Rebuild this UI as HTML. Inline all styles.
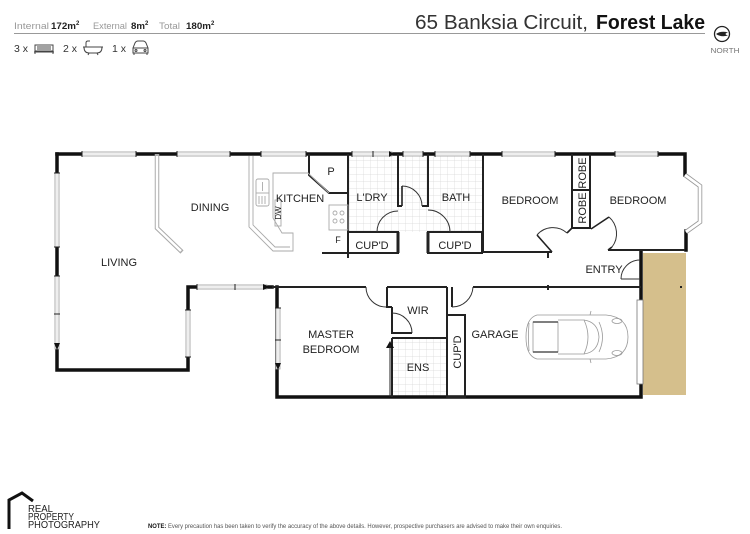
<!DOCTYPE html>
<html><head><meta charset="utf-8"><style>
html,body{margin:0;padding:0;background:#fff;}
svg{display:block;font-family:"Liberation Sans",sans-serif;}
</style></head><body>
<svg width="750" height="534" viewBox="0 0 750 534" xmlns="http://www.w3.org/2000/svg">
<defs>
<pattern id="tile" width="7" height="7" patternUnits="userSpaceOnUse"><path d="M7,0 V7 M0,7 H7" stroke="#d8d8d8" stroke-width="0.7" fill="none"/></pattern>
</defs>
<rect width="750" height="534" fill="#fff"/>

<!-- HEADER -->
<g font-size="9.5">
<text x="14" y="29" fill="#999" textLength="35" lengthAdjust="spacingAndGlyphs">Internal</text>
<text x="51" y="29" fill="#222" font-weight="bold" textLength="25" lengthAdjust="spacingAndGlyphs">172m</text><text x="76" y="25" fill="#222" font-size="6" font-weight="bold">2</text>
<text x="93" y="29" fill="#999" textLength="34" lengthAdjust="spacingAndGlyphs">External</text>
<text x="131" y="29" fill="#222" font-weight="bold" textLength="14" lengthAdjust="spacingAndGlyphs">8m</text><text x="145" y="25" fill="#222" font-size="6" font-weight="bold">2</text>
<text x="159" y="29" fill="#999" textLength="21" lengthAdjust="spacingAndGlyphs">Total</text>
<text x="186" y="29" fill="#222" font-weight="bold" textLength="25" lengthAdjust="spacingAndGlyphs">180m</text><text x="211" y="25" fill="#222" font-size="6" font-weight="bold">2</text>
</g>
<line x1="14" y1="33.5" x2="705" y2="33.5" stroke="#999" stroke-width="1"/>
<g font-size="10.5" fill="#333">
<text x="14" y="52">3 x</text>
<text x="63" y="52">2 x</text>
<text x="112" y="52">1 x</text>
</g>
<g fill="none" stroke="#444" stroke-width="1">
<rect x="35" y="45" width="18" height="6"/>
<line x1="37" y1="47" x2="51" y2="47"/><line x1="37" y1="49" x2="51" y2="49"/>
<line x1="34" y1="52" x2="54" y2="52"/>
<line x1="35" y1="52" x2="35" y2="54"/><line x1="53" y1="52" x2="53" y2="54"/>
<path d="M83,47 H103 M84,47 Q84,53 89,53 H97 Q102,53 102,47"/>
<path d="M86,47 V43 Q86,41 88,41 H90"/>
<line x1="89" y1="53" x2="88" y2="55"/><line x1="97" y1="53" x2="98" y2="55"/>
<path d="M133,48 L135,43 Q136,41 138,41 H143 Q145,41 146,43 L148,48 V53 H133 Z"/>
<line x1="133" y1="48" x2="148" y2="48"/>
<circle cx="136" cy="50.5" r="1"/><circle cx="145" cy="50.5" r="1"/>
<line x1="134" y1="53" x2="134" y2="55"/><line x1="147" y1="53" x2="147" y2="55"/>
</g>

<text x="415" y="29" font-size="20" fill="#333" textLength="173" lengthAdjust="spacingAndGlyphs">65 Banksia Circuit,</text>
<text x="596" y="29" font-size="20" fill="#111" font-weight="bold" textLength="109" lengthAdjust="spacingAndGlyphs">Forest Lake</text>

<circle cx="722" cy="34" r="7.5" fill="none" stroke="#222" stroke-width="1.3"/>
<path d="M716,34 Q721,30.5 728,32.5 Q723,34 728,35.5 Q721,37.5 716,34 Z" fill="#222"/>
<text x="725" y="53" font-size="7" fill="#777" text-anchor="middle" textLength="29" lengthAdjust="spacingAndGlyphs">NORTH</text>

<!-- TAN PORCH -->
<rect x="643" y="253" width="43" height="142" fill="#d5bf8c"/>
<rect x="680" y="286" width="2" height="2" fill="#222"/>

<!-- TILES -->
<rect x="348" y="154" width="50" height="78" fill="url(#tile)"/>
<rect x="398" y="154" width="30" height="78" fill="url(#tile)"/>
<rect x="428" y="154" width="54" height="78" fill="url(#tile)"/>
<rect x="392" y="338" width="55" height="59" fill="url(#tile)"/>

<!-- OUTER WALLS -->
<g fill="none" stroke="#111" stroke-width="3.5" stroke-linecap="square">
<path d="M57,154 H685 V175"/>
<path d="M686,231 V250"/>
<path d="M57,154 V370 H188 V287 H272"/>
<path d="M277,287 V397 H641 V384"/>
<path d="M641,300 V252"/>
</g>

<!-- INTERIOR WALLS -->
<g fill="none" stroke="#222" stroke-width="2">
<path d="M483,154 V252 H552"/>
<path d="M608,250 H685"/>
<path d="M428,154 V206 H422"/>
<path d="M398,154 V206 H402"/>
<path d="M348,154 V258"/>
<rect x="348" y="232" width="50" height="21"/>
<rect x="428" y="232" width="54" height="21"/>
<path d="M309,154 V175 L329,193 H348"/>
<path d="M322,253 H348"/>
<path d="M272,287 H366"/>
<path d="M387,287 H447"/>
<path d="M473,287 H641"/>
<path d="M392,307 V333 H412"/>
<path d="M392,338 V397"/>
<path d="M392,338 H447"/>
<path d="M447,287 V397"/>
<rect x="447" y="315" width="18" height="82"/>
<path d="M387,287 V307 H392"/>
<path d="M452,287 V307"/>
<path d="M548,285 V290"/>
<path d="M548,252 V258"/>
</g>
<g fill="none" stroke="#222" stroke-width="3">
<path d="M398,232 V253 M428,232 V253"/>
</g>
<!-- robe -->
<g fill="none" stroke="#222" stroke-width="2">
<path d="M572,154 V228 H590 V154"/>
<path d="M572,190 H590"/>
</g>

<!-- doors -->
<g fill="none" stroke="#333" stroke-width="1">
<path d="M366,287 A20,20 0 0 0 386,307"/>
<path d="M392,313 A20,20 0 0 1 412,333"/>
<path d="M452,307 A21,21 0 0 0 473,287"/>
<path d="M621,279 A19,19 0 0 1 640,260"/>
<path d="M621,279 H640"/>
<path d="M377,232 A21,21 0 0 1 398,211"/>
<path d="M428,210 A22,22 0 0 1 450,232"/>
<path d="M402,186 A20,20 0 0 1 422,206"/>
</g>
<g fill="none" stroke="#222" stroke-width="1.6">
<path d="M402,186 V206"/>
<path d="M552,252 L537,235"/>
<path d="M567,233 L572,228"/>
<path d="M591,229 L609,217"/>
<path d="M612,247 L608,250"/>
</g>
<g fill="none" stroke="#333" stroke-width="1">
<path d="M537,235 A21,21 0 0 1 567,233"/>
<path d="M609,217 A22,22 0 0 1 612,247"/>
</g>

<!-- WINDOWS -->
<g>
<g fill="#fff" stroke="#999" stroke-width="0.8">
<rect x="82" y="152" width="54" height="4"/>
<rect x="177" y="152" width="53" height="4"/>
<rect x="261" y="152" width="45" height="4"/>
<rect x="352" y="152" width="40" height="4"/>
<rect x="403" y="152" width="20" height="4"/>
<rect x="435" y="152" width="35" height="4"/>
<rect x="502" y="152" width="53" height="4"/>
<rect x="615" y="152" width="43" height="4"/>
<rect x="55" y="173" width="4" height="74"/>
<rect x="55" y="276" width="4" height="38"/>
<rect x="55" y="314" width="4" height="35"/>
<rect x="186" y="310" width="4" height="47"/>
<rect x="197" y="285" width="38" height="4"/>
<rect x="235" y="285" width="32" height="4"/>
<rect x="276" y="308" width="4" height="32"/>
<rect x="276" y="340" width="4" height="29"/>
<rect x="637" y="300" width="6" height="84" stroke="#777"/>
<path d="M685,175 L700,186 L700,222 L686,232" fill="none" stroke="#999" stroke-width="4.5"/>
<path d="M685,175 L700,186 L700,222 L686,232" fill="none" stroke="#fff" stroke-width="2.8"/>
</g>
<g stroke="#bbb" stroke-width="0.5">
<line x1="82" y1="154" x2="136" y2="154"/><line x1="177" y1="154" x2="230" y2="154"/>
<line x1="261" y1="154" x2="306" y2="154"/><line x1="352" y1="154" x2="390" y2="154"/>
<line x1="403" y1="154" x2="423" y2="154"/><line x1="435" y1="154" x2="470" y2="154"/>
<line x1="502" y1="154" x2="555" y2="154"/><line x1="615" y1="154" x2="658" y2="154"/>
<line x1="57" y1="173" x2="57" y2="247"/><line x1="57" y1="276" x2="57" y2="349"/>
<line x1="188" y1="310" x2="188" y2="357"/><line x1="197" y1="287" x2="267" y2="287"/>
<line x1="278" y1="308" x2="278" y2="369"/>
</g>
<g stroke="#222" stroke-width="1">
<line x1="82" y1="151" x2="82" y2="157"/><line x1="136" y1="151" x2="136" y2="157"/>
<line x1="177" y1="151" x2="177" y2="157"/><line x1="230" y1="151" x2="230" y2="157"/>
<line x1="261" y1="151" x2="261" y2="157"/><line x1="306" y1="151" x2="306" y2="157"/>
<line x1="352" y1="151" x2="352" y2="157"/><line x1="373" y1="151" x2="373" y2="157"/>
<line x1="403" y1="151" x2="403" y2="157"/><line x1="423" y1="151" x2="423" y2="157"/>
<line x1="435" y1="151" x2="435" y2="157"/><line x1="470" y1="151" x2="470" y2="157"/>
<line x1="502" y1="151" x2="502" y2="157"/><line x1="555" y1="151" x2="555" y2="157"/>
<line x1="615" y1="151" x2="615" y2="157"/><line x1="658" y1="151" x2="658" y2="157"/>
<line x1="54" y1="173" x2="60" y2="173"/><line x1="54" y1="247" x2="60" y2="247"/>
<line x1="54" y1="276" x2="60" y2="276"/><line x1="54" y1="314" x2="60" y2="314"/>
<line x1="185" y1="310" x2="191" y2="310"/><line x1="185" y1="357" x2="191" y2="357"/>
<line x1="197" y1="284" x2="197" y2="290"/><line x1="235" y1="284" x2="235" y2="290"/>
<line x1="275" y1="308" x2="281" y2="308"/><line x1="275" y1="340" x2="281" y2="340"/>
</g>
<g fill="#111">
<path d="M389,151 L394,154 L389,157 Z"/>
<path d="M54,343 L60,343 L57,350 Z"/>
<path d="M263,284 L270,287 L263,290 Z"/>
<path d="M275,363 L281,363 L278,370 Z"/>
<path d="M386,348 L390,341 L394,348 Z"/>
</g>
<line x1="390" y1="345" x2="390" y2="397" stroke="#222" stroke-width="1"/>
</g>

<!-- living/dining divider & kitchen bench -->
<g fill="none" stroke="#aaa" stroke-width="4.5">
<path d="M157,154 V228 L182,252"/>
</g>
<g fill="none" stroke="#fff" stroke-width="2.5">
<path d="M157,156 V228 L181,251"/>
</g>
<g fill="none" stroke="#aaa" stroke-width="0.9">
<path d="M249,156 V227 L273,251 H293 V233 H282 L273,218 V173 H308 L329,193"/>
<path d="M253,156 V225 L275,247 H290"/>
<rect x="256" y="179" width="13" height="27" rx="2"/>
<line x1="256" y1="193" x2="269" y2="193"/>
<line x1="262.5" y1="182" x2="262.5" y2="191"/>
<path d="M259,196 V204 M262,196 V204 M265,196 V204"/>
<rect x="275" y="200" width="6" height="26"/>
<rect x="329" y="205" width="19" height="25"/>
<circle cx="335" cy="213" r="2"/><circle cx="342" cy="213" r="2"/>
<circle cx="335" cy="221" r="2"/><circle cx="342" cy="221" r="2"/>
</g>

<!-- car -->
<g fill="none" stroke="#999" stroke-width="0.8">
<path d="M537,315 H606 Q628,317 628,337 Q628,357 606,359 H537 Q526,356 526,337 Q526,318 537,315 Z"/>
<path d="M533,322 H558 V352 H533 Z"/>
<path d="M533,322 H558 M533,352 H558" stroke="#555" stroke-width="1.5"/>
<path d="M558,320 H584 Q592,337 584,354 H558"/>
<path d="M584,320 Q598,322 599,337 Q598,352 584,354"/>
<path d="M599,322 Q606,337 599,352"/>
<ellipse cx="617" cy="321" rx="5" ry="2.5"/>
<ellipse cx="617" cy="353" rx="5" ry="2.5"/>
<path d="M590,315 L591,311 M590,359 L591,363"/>
<path d="M529,323 Q528,337 529,351"/>
</g>

<!-- ROOM LABELS -->
<g font-size="11" fill="#222" text-anchor="middle">
<text x="119" y="266">LIVING</text>
<text x="210" y="211">DINING</text>
<text x="300" y="202">KITCHEN</text>
<text x="331" y="175">P</text>
<text x="338" y="243" font-size="9">F</text>
<text x="372" y="201">L'DRY</text>
<text x="456" y="201">BATH</text>
<text x="372" y="249">CUP'D</text>
<text x="455" y="249">CUP'D</text>
<text x="530" y="204">BEDROOM</text>
<text x="638" y="204">BEDROOM</text>
<text x="604" y="273">ENTRY</text>
<text x="331" y="338">MASTER</text>
<text x="331" y="353">BEDROOM</text>
<text x="418" y="314">WIR</text>
<text x="495" y="338">GARAGE</text>
<text x="418" y="371">ENS</text>
<text transform="translate(586,173) rotate(-90)">ROBE</text>
<text transform="translate(586,208) rotate(-90)">ROBE</text>
<text transform="translate(461,352) rotate(-90)">CUP'D</text>
<text transform="translate(281,213) rotate(-90)" font-size="8">DW</text>
</g>

<!-- FOOTER -->
<path d="M9,529 V500 L22,493 L33,501" fill="none" stroke="#111" stroke-width="3"/>
<g font-size="10.5" fill="#222">
<text x="28" y="512" textLength="25" lengthAdjust="spacingAndGlyphs">REAL</text>
<text x="28" y="520" textLength="46" lengthAdjust="spacingAndGlyphs">PROPERTY</text>
<text x="28" y="528" textLength="72" lengthAdjust="spacingAndGlyphs">PHOTOGRAPHY</text>
</g>
<text x="148" y="528" font-size="6.5" fill="#555" textLength="414" lengthAdjust="spacingAndGlyphs"><tspan font-weight="bold" fill="#111">NOTE:</tspan> Every precaution has been taken to verify the accuracy of the above details. However, prospective purchasers are advised to make their own enquiries.</text>
</svg>
</body></html>
